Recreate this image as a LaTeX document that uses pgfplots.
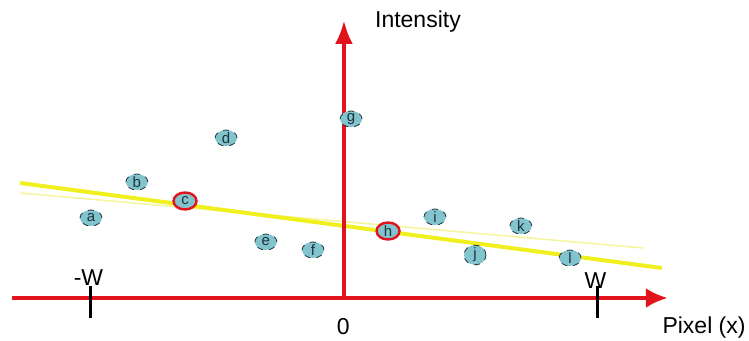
\documentclass[border=0pt]{standalone}
\usepackage{pgfplots}
\pgfplotsset{compat=1.18}
\usepackage{fontspec}
\setmainfont{Liberation Sans}
\usetikzlibrary{arrows.meta,shapes.geometric}
\definecolor{axred}{RGB}{225,20,30}
\definecolor{ptfill}{RGB}{130,196,205}
\definecolor{ptline}{RGB}{30,50,60}
\definecolor{fityel}{RGB}{240,240,30}
\definecolor{fitpale}{RGB}{245,245,160}
\begin{document}
\begin{tikzpicture}
\begin{axis}[
  hide axis, scale only axis, clip=false,
  width=374.5pt, height=170.5pt,
  xmin=-1.359, xmax=1.596, ymin=-43, ymax=298,
  font=\fontsize{11.5}{13}\selectfont,
]
% bounding frame (invisible)
\addplot[draw=none, forget plot] coordinates {(-1.359,-43) (1.596,298)};
% fitted lines
\addplot[fitpale, line width=0.8pt, forget plot] coordinates {(-1.28,105) (1.178,50)};
\addplot[fityel, line width=2pt, forget plot] coordinates {(-1.28,115) (1.252,30)};
% axes
\addplot[axred, line width=2.2pt, -{Latex[length=11pt,width=10pt]}, forget plot] coordinates {(-1.311,0) (1.276,0)};
\addplot[axred, line width=2.2pt, -{Latex[length=12pt,width=9pt]}, forget plot] coordinates {(-0.002,0) (-0.002,278)};
% ticks
\addplot[black, line width=1.5pt, forget plot] coordinates {(-1.0,12) (-1.0,-20)};
\addplot[black, line width=1.5pt, forget plot] coordinates {(1.0,12) (1.0,-20)};
% ordinary points
\addplot[only marks, mark=none, point meta=explicit symbolic,
  nodes near coords, nodes near coords align={center},
  every node near coord/.style={ellipse, draw=ptline, dashed, fill=ptfill,
    minimum width=11pt, minimum height=8pt, inner sep=0pt, text=ptline,
    font=\fontsize{7.5}{8}\selectfont, anchor=center}]
  table[meta=l] {
  x y l
  -1.000 80 a
  -0.819 116 b
  -0.467 160 d
  -0.310 56 e
  -0.124 48 f
  0.026 179 g
  0.357 81 i
  0.515 43 j
  0.696 72 k
  0.890 40 l
};
% highlighted points
\addplot[only marks, mark=none, point meta=explicit symbolic,
  nodes near coords, nodes near coords align={center},
  every node near coord/.style={ellipse, draw=axred, line width=1.2pt, fill=ptfill,
    minimum width=11.5pt, minimum height=8.5pt, inner sep=0pt, text=ptline,
    font=\fontsize{7.5}{8}\selectfont, anchor=center}]
  table[meta=l] {
  x y l
  -0.629 97 c
  0.172 67 h
};
% labels
\node at (axis cs:-1.01,20) {-W};
\node at (axis cs:0.99,17) {W};
\node at (axis cs:-0.005,-29) {0};
\node[anchor=east, inner sep=1pt] at (axis cs:1.592,-30) {Pixel (x)};
\node[anchor=west] at (axis cs:0.093,276) {Intensity};
\end{axis}
\pgfresetboundingbox
\path (current axis.south west) rectangle (current axis.north east);
\end{tikzpicture}
\end{document}
